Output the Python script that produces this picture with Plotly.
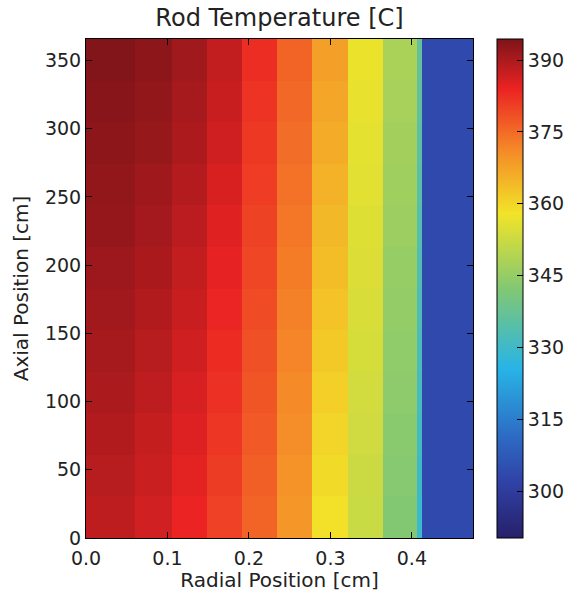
import numpy as np
import plotly.graph_objects as go

# Radial cell edges [cm] (fuel rings, gap, clad)
radial_edges = [0.0, 0.060, 0.105, 0.148, 0.191, 0.234, 0.277, 0.321, 0.365, 0.406, 0.413, 0.475]
# Axial cell edges [cm]
axial_edges = [0.0, 30.48, 60.96, 91.44, 121.92, 152.40, 182.88, 213.36, 243.84,
               274.32, 304.80, 335.28, 365.76]

# Temperature [C] per radial column, bottom -> top
col1 = [388.3, 388.9, 389.5, 390.0, 390.5, 391.0, 391.5, 392.0, 392.5, 393.0, 393.5, 393.9]
col2 = [386.4, 387.1, 387.7, 388.3, 388.9, 389.5, 390.1, 390.7, 391.3, 391.9, 392.5, 393.0]
col3 = [384.0, 384.7, 385.3, 385.9, 386.6, 387.2, 387.9, 388.5, 389.2, 389.9, 390.5, 391.1]
col4 = [380.2, 380.9, 381.6, 382.3, 383.0, 383.7, 384.4, 385.1, 385.8, 386.5, 387.2, 387.8]
col5 = [375.9, 376.5, 377.1, 377.7, 378.3, 378.9, 379.5, 380.1, 380.7, 381.3, 382.0, 382.7]
col6 = [369.3, 369.9, 370.5, 371.1, 371.7, 372.3, 372.9, 373.5, 374.1, 374.7, 375.3, 375.9]
col7 = [358.4, 359.3, 360.2, 361.0, 361.9, 362.7, 363.6, 364.4, 365.2, 366.1, 366.9, 367.8]
col8 = [352.1, 352.5, 353.0, 353.4, 353.9, 354.3, 354.8, 355.2, 355.7, 356.1, 356.6, 357.0]
col9 = [342.3, 342.8, 343.3, 343.8, 344.3, 344.8, 345.3, 345.9, 346.4, 346.9, 347.4, 347.9]
gap  = [329.4, 330.1, 330.8, 331.4, 332.1, 332.8, 333.4, 334.1, 334.8, 335.4, 336.1, 336.8]
clad = [303.8, 303.8, 303.8, 303.8, 303.8, 303.8, 303.8, 303.8, 303.8, 303.8, 303.8, 303.8]

columns = [col1, col2, col3, col4, col5, col6, col7, col8, col9, gap, clad]
z = np.array(columns).T.tolist()

zmin, zmax = 290.2, 394.4
cbar_ticks = [300, 315, 330, 345, 360, 375, 390]
x_ticks = [0.0, 0.1, 0.2, 0.3, 0.4]
y_ticks = [0, 50, 100, 150, 200, 250, 300, 350]

# desaturated jet, as printed in the reference
colorscale = [
    [0.00, "rgb(38,32,105)"],
    [0.11, "rgb(48,65,165)"],
    [0.20, "rgb(45,105,195)"],
    [0.34, "rgb(40,180,230)"],
    [0.50, "rgb(130,200,115)"],
    [0.65, "rgb(242,228,40)"],
    [0.78, "rgb(245,135,40)"],
    [0.90, "rgb(235,35,35)"],
    [1.00, "rgb(125,20,25)"],
]

FONT = "DejaVu Sans"
TXT = "#222222"

fig = go.Figure(go.Heatmap(
    x=radial_edges, y=axial_edges, z=z,
    zmin=zmin, zmax=zmax, colorscale=colorscale,
    colorbar=dict(
        x=(497 - 86) / 387, xanchor="left", xpad=0, ypad=0,
        y=0.5, yanchor="middle", len=1, lenmode="fraction",
        thickness=26, outlinewidth=1, outlinecolor="black",
        tickvals=cbar_ticks, ticks="inside", ticklen=6, tickcolor="black",
        tickfont=dict(family=FONT, size=19, color=TXT),
    ),
))

axis_common = dict(
    showline=True, linecolor="black", linewidth=1, mirror="ticks",
    ticks="inside", ticklen=6, tickcolor="black", showgrid=False, zeroline=False,
    tickfont=dict(family=FONT, size=19, color=TXT),
)

fig.update_layout(
    width=566, height=592,
    margin=dict(l=86, r=93, t=39, b=54, autoexpand=False),
    paper_bgcolor="white", plot_bgcolor="white",
    title=dict(text="Rod Temperature [C]", x=(279.5 - 86) / 387, xref="paper", xanchor="center",
               y=1 - 18 / 592, yref="container", yanchor="middle",
               font=dict(family=FONT, size=24, color=TXT)),
    xaxis=dict(range=[0, 0.475], tickvals=x_ticks, tickformat=".1f", ticklabelstandoff=3,
               title=dict(text="Radial Position [cm]", font=dict(family=FONT, size=20, color=TXT), standoff=4),
               **axis_common),
    yaxis=dict(range=[0, 365.76], tickvals=y_ticks,
               title=dict(text="Axial Position [cm]", font=dict(family=FONT, size=20, color=TXT), standoff=10),
               **axis_common),
)

fig.write_html("out.html")
